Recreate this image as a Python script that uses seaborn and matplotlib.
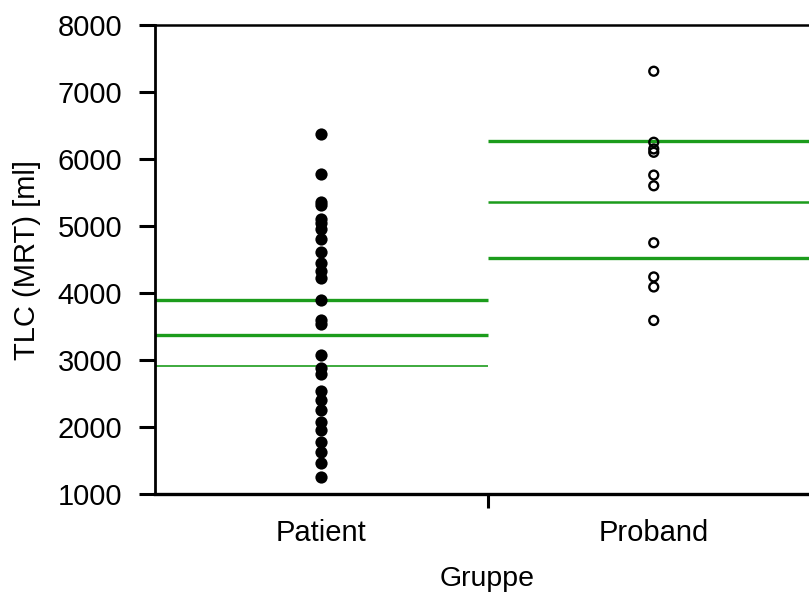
import matplotlib
matplotlib.use("Agg")
import matplotlib.pyplot as plt
import seaborn as sns
import pandas as pd

# TLC measurements (MRT) per group, in ml
patient_tlc = [6380, 5770, 5360, 5310, 5100, 5040, 4950, 4810, 4610, 4450,
               4330, 4220, 3900, 3590, 3540, 3080, 2880, 2790, 2540, 2400,
               2250, 2080, 1960, 1780, 1620, 1460, 1250]
proband_tlc = [7310, 6250, 6150, 6100, 5760, 5600, 4750, 4240, 4090, 3590]

groups = ["Patient", "Proband"]
# horizontal summary lines per group (lower, middle, upper)
patient_lines = [2915, 3370, 3900]
proband_lines = [4520, 5360, 6270]

y_ticks = [1000, 2000, 3000, 4000, 5000, 6000, 7000, 8000]

sns.set_theme(style="ticks")
plt.rcParams["font.family"] = ["Liberation Sans", "DejaVu Sans"]

df = pd.DataFrame({
    "Gruppe": ["Patient"] * len(patient_tlc) + ["Proband"] * len(proband_tlc),
    "TLC": patient_tlc + proband_tlc,
})

fig = plt.figure(figsize=(8.09, 5.92), dpi=100)
ax = fig.add_axes([155 / 809, 1 - 494 / 592, 665 / 809, 469 / 592])

green = "#1c9c1c"
line_w = {"Patient": [1.2, 2.4, 2.4], "Proband": [2.4, 1.8, 2.4]}
for i, (g, vals) in enumerate(zip(groups, [patient_lines, proband_lines])):
    for v, lw in zip(vals, line_w[g]):
        ax.hlines(v, i - 0.5, i + 0.5, color=green, lw=lw, zorder=1)

sns.stripplot(data=df[df.Gruppe == "Patient"], x="Gruppe", y="TLC",
              order=groups, jitter=False, color="black", size=8.8,
              linewidth=0, ax=ax, zorder=3)
sns.stripplot(data=df[df.Gruppe == "Proband"], x="Gruppe", y="TLC",
              order=groups, jitter=False, color="black", size=6.4,
              linewidth=1.7, edgecolor="black", ax=ax, zorder=3)
ax.collections[-1].set_facecolor("none")

ax.set_xlim(-0.5, 1.5)
ax.set_ylim(1000, 8000)
ax.set_yticks(y_ticks)
ax.set_yticklabels([str(t) for t in y_ticks])
ax.set_xticks([0, 1])
ax.set_xticklabels(groups)
ax.set_xticks([0.5], minor=True)

ax.tick_params(axis="y", length=11.5, width=2.2, pad=12, labelsize=21,
               color="black", labelcolor="black")
ax.tick_params(axis="x", which="major", length=0, pad=18, labelsize=21,
               labelcolor="black")
ax.tick_params(axis="x", which="minor", length=10, width=2.2, color="black")

for side, lw in [("left", 2.0), ("bottom", 2.4), ("top", 1.8), ("right", 1.8)]:
    ax.spines[side].set_linewidth(lw)
    ax.spines[side].set_color("black")

ax.set_xlabel("Gruppe", fontsize=20.5, labelpad=14, color="black")
ax.set_ylabel("TLC (MRT) [ml]", fontsize=21, labelpad=12, color="black")

fig.savefig("out.png", dpi=100)
